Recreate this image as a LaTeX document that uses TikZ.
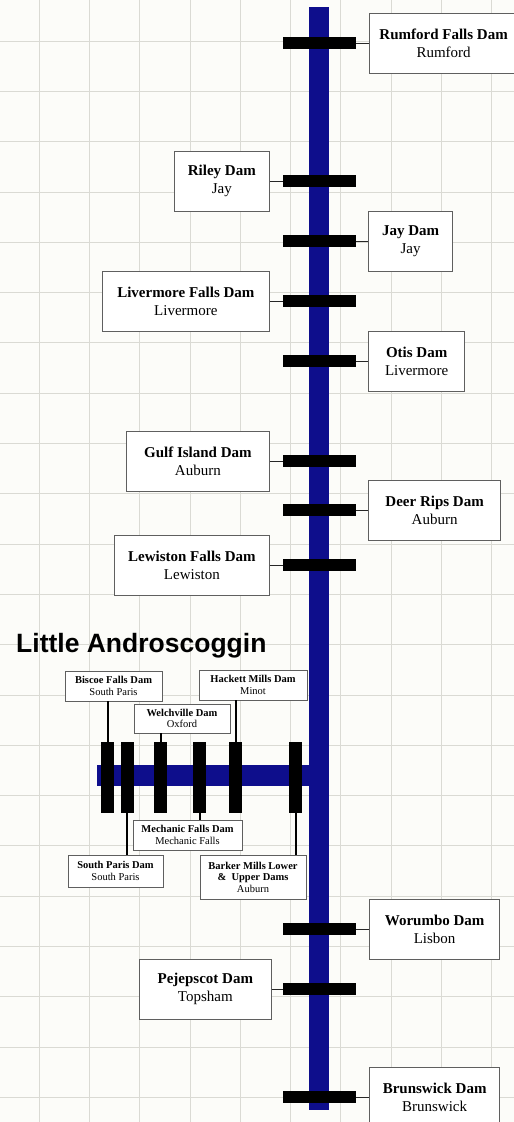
\documentclass[tikz,border=0pt]{standalone}
\usepackage{fontspec}
\setmainfont{Liberation Serif}
\newfontfamily\headfont{Liberation Sans}
\usepackage{tikz}
\usetikzlibrary{positioning}
\definecolor{river}{RGB}{14,14,140}
\definecolor{gridcol}{RGB}{218,218,212}
\definecolor{paper}{RGB}{252,252,249}
\definecolor{boxline}{RGB}{95,95,95}

\begin{document}
\begin{tikzpicture}[x=1pt,y=-1pt,
  dambox/.style={draw=boxline,fill=white,line width=0.9pt,align=center,minimum height=60pt,inner sep=2pt,font=\fontsize{15}{18}\selectfont},
  dambar/.style={fill=black,minimum width=73pt,minimum height=12pt,inner sep=0pt},
  tribbar/.style={fill=black,minimum width=13pt,minimum height=71pt,inner sep=0pt},
  tribbox/.style={draw=boxline,fill=white,line width=0.8pt,align=center,minimum height=30pt,inner sep=1pt,font=\fontsize{10.5}{11.5}\selectfont},
  link/.style={draw=black!85,line width=1pt},
  tlink/.style={draw=black,line width=2pt}]
\useasboundingbox (0,0) rectangle (514,1122);
\clip (0,0) rectangle (514,1122);
\fill[paper] (0,0) rectangle (514,1122);
% grid
\foreach \k in {-1,...,10} \draw[gridcol,line width=0.8pt] (39+50.3*\k,0) -- (39+50.3*\k,1122);
\foreach \k in {-1,...,22} \draw[gridcol,line width=0.8pt] (0,41+50.3*\k) -- (514,41+50.3*\k);
% rivers
\fill[river] (97,765) rectangle (315,786);
\fill[river] (309,7) rectangle (329,1110);
% Androscoggin dams
\node[dambar] (rumfordBar) at (319.5,43) {};
\node[dambar] (rileyBar) at (319.5,181) {};
\node[dambar] (jayBar) at (319.5,241) {};
\node[dambar] (livermoreBar) at (319.5,301) {};
\node[dambar] (otisBar) at (319.5,361) {};
\node[dambar] (gulfBar) at (319.5,461) {};
\node[dambar] (deerBar) at (319.5,510) {};
\node[dambar] (lewistonBar) at (319.5,565) {};
\node[dambar] (worumboBar) at (319.5,929) {};
\node[dambar] (pejepscotBar) at (319.5,989) {};
\node[dambar] (brunswickBar) at (319.5,1097) {};
\node[dambox,right=13pt of rumfordBar,minimum width=148pt] (rumford) {\textbf{Rumford Falls Dam}\\Rumford};
\node[dambox,left=13pt of rileyBar,minimum width=95pt] (riley) {\textbf{Riley Dam}\\Jay};
\node[dambox,right=12pt of jayBar,minimum width=84pt] (jay) {\textbf{Jay Dam}\\Jay};
\node[dambox,left=13pt of livermoreBar,minimum width=167pt] (livermore) {\textbf{Livermore Falls Dam}\\Livermore};
\node[dambox,right=12pt of otisBar,minimum width=96pt] (otis) {\textbf{Otis Dam}\\Livermore};
\node[dambox,left=13pt of gulfBar,minimum width=143pt] (gulf) {\textbf{Gulf Island Dam}\\Auburn};
\node[dambox,right=12pt of deerBar,minimum width=132pt] (deer) {\textbf{Deer Rips Dam}\\Auburn};
\node[dambox,left=13pt of lewistonBar,minimum width=155pt] (lewiston) {\textbf{Lewiston Falls Dam}\\Lewiston};
\node[dambox,right=13pt of worumboBar,minimum width=130pt] (worumbo) {\textbf{Worumbo Dam}\\Lisbon};
\node[dambox,left=11pt of pejepscotBar,minimum width=132pt] (pejepscot) {\textbf{Pejepscot Dam}\\Topsham};
\node[dambox,right=13pt of brunswickBar,minimum width=130pt] (brunswick) {\textbf{Brunswick Dam}\\Brunswick};
\foreach \d in {rumford,riley,jay,livermore,otis,gulf,deer,lewiston,worumbo,pejepscot,brunswick}
  \draw[link] (\d) -- (\d Bar);
% Little Androscoggin
\node[anchor=base west,inner sep=0pt,font=\headfont\bfseries\fontsize{26.5}{30}\selectfont] (title) at (16,652) {Little Androscoggin};
\node[tribbar] (biscoeBar) at (107.5,777.5) {};
\node[tribbar] (southParisBar) at (127,777.5) {};
\node[tribbar] (welchvilleBar) at (160.5,777.5) {};
\node[tribbar] (mechanicBar) at (199.5,777.5) {};
\node[tribbar] (hackettBar) at (235.5,777.5) {};
\node[tribbar] (barkerBar) at (295.5,777.5) {};
\node[tribbox,minimum width=97pt] (biscoe) at (113.5,686) {\textbf{Biscoe Falls Dam}\\South Paris};
\node[tribbox,minimum width=96pt,minimum height=29pt] (welchville) at (182,718.5) {\textbf{Welchville Dam}\\Oxford};
\node[tribbox,minimum width=108pt] (hackett) at (253,685) {\textbf{Hackett Mills Dam}\\Minot};
\node[tribbox,minimum width=109pt] (mechanic) at (187.5,835) {\textbf{Mechanic Falls Dam}\\Mechanic Falls};
\node[tribbox,minimum width=95pt,minimum height=32pt] (southParis) at (115.5,871) {\textbf{South Paris Dam}\\South Paris};
\node[tribbox,minimum width=106pt,minimum height=44pt] (barker) at (253,877) {\textbf{Barker Mills Lower}\\\textbf{\&\ \ Upper Dams}\\Auburn};
\foreach \d in {biscoe,welchville,hackett}
  \draw[tlink] (\d Bar.north) -- (\d Bar.north |- \d.south);
\foreach \d in {southParis,mechanic,barker}
  \draw[tlink] (\d Bar.south) -- (\d Bar.south |- \d.north);
\end{tikzpicture}
\end{document}
